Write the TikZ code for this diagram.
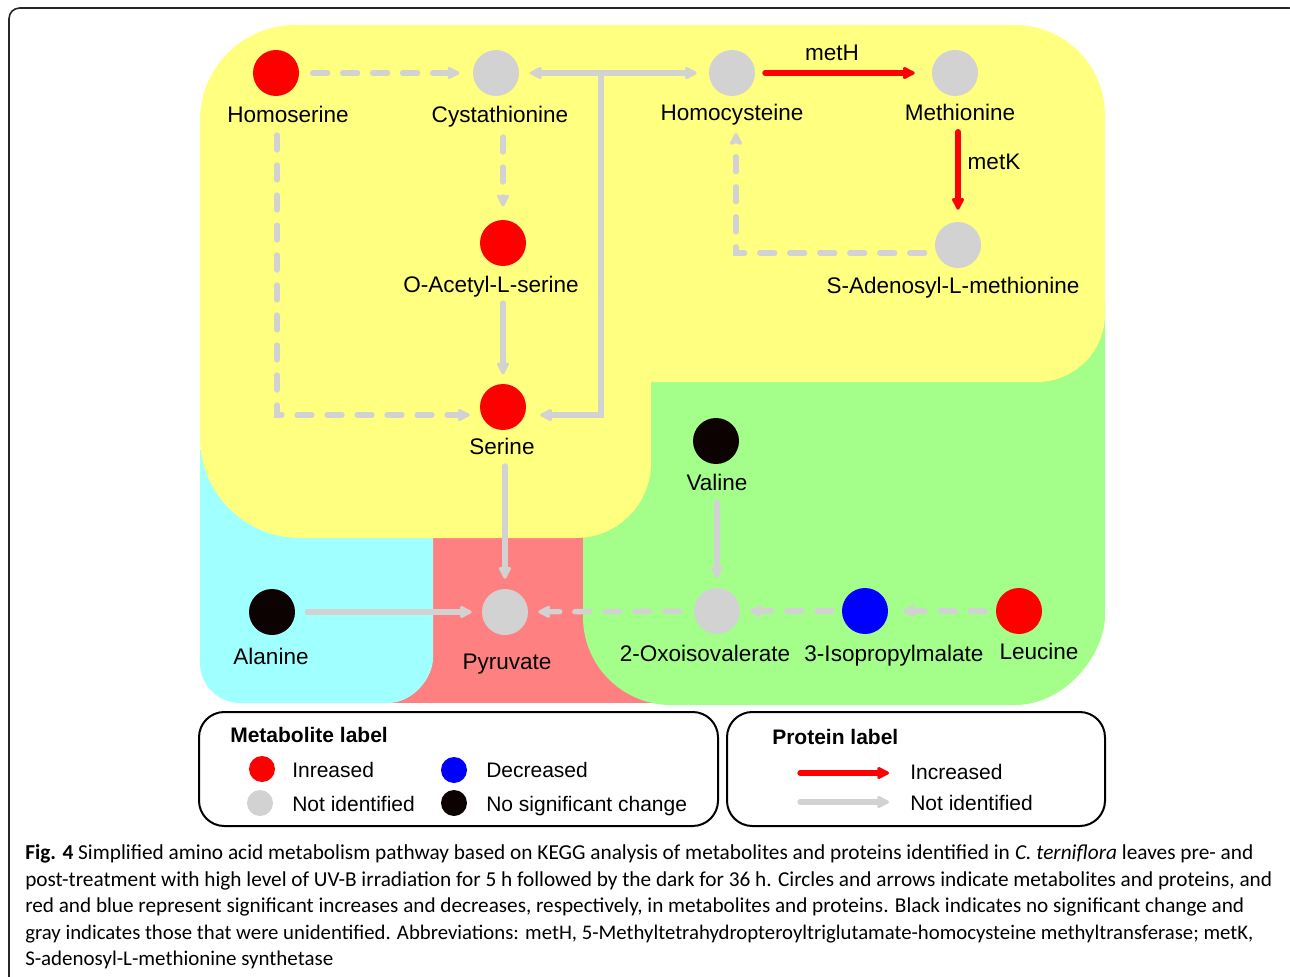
\documentclass[tikz,border=0pt]{standalone}
\usepackage{fontspec}
\setmainfont{Liberation Sans}
\newfontfamily\capfont{Carlito}
\usetikzlibrary{arrows.meta,calc}
\definecolor{cyel}{RGB}{255,255,128}
\definecolor{cgrn}{RGB}{163,255,138}
\definecolor{ccyn}{RGB}{160,255,255}
\definecolor{csal}{RGB}{255,128,128}
\definecolor{cgry}{RGB}{210,210,210}
\definecolor{cred}{RGB}{255,0,0}
\definecolor{cblu}{RGB}{0,0,255}
\definecolor{cblk}{RGB}{12,2,2}
\begin{document}
\begin{tikzpicture}[x=0.75pt,y=-0.75pt,
  >={Stealth[length=11pt,width=11pt,inset=2pt,round]},
  met/.style={circle,minimum size=34.5pt,inner sep=0pt},
  lbl/.style={anchor=base,inner sep=0pt,font=\fontsize{16.9}{20}\selectfont},
  gline/.style={draw=cgry,line width=4pt,line cap=round},
  gdash/.style={gline,dash pattern=on 11.25pt off 11.25pt},
  rline/.style={draw=cred,line width=4.5pt,line cap=round,->},
  legbox/.style={draw=black,line width=1.5pt,rounded corners=19pt},
  lc/.style={circle,minimum size=19.5pt,inner sep=0pt},
  lt/.style={anchor=base west,inner sep=0pt,font=\fontsize{15.75}{18}\selectfont},
  lh/.style={anchor=base west,inner sep=0pt,font=\bfseries\fontsize{15.75}{18}\selectfont},
  captxt/.style={anchor=base west,inner sep=0pt,font=\capfont\fontsize{14.5}{17}\selectfont}]
\useasboundingbox (0,0) rectangle (1290,977);
\clip (0,0) rectangle (1290,977);
\fill[white] (0,0) rectangle (1290,977);
\draw[line width=1.2pt,rounded corners=8pt,draw=black!85] (9,8) rectangle (1300,1010);
% regions
\fill[csal] (380,500) rectangle (700,703);
\fill[ccyn] (200,450) -- (200,663) .. controls (200,685) and (218,703) .. (240,703)
  -- (388,703) .. controls (412.8,703) and (433,678.2) .. (433,658) -- (433,450) -- cycle;
\fill[cgrn] (583,300) -- (583,617) .. controls (583,665.6) and (622.4,705) .. (671,705)
  -- (1015,705) .. controls (1064.7,705) and (1105,655.3) .. (1105,615) -- (1105,300) -- cycle;
\fill[cyel] (295,25) -- (1015,25) .. controls (1064.7,25) and (1105,65.3) .. (1105,115)
  -- (1105,314) .. controls (1105,351.5) and (1074.5,382) .. (1037,382)
  -- (651,382) -- (651,463) .. controls (651,504.4) and (617.4,538) .. (576,538)
  -- (300,538) .. controls (244.8,538) and (200,493.2) .. (200,438)
  -- (200,120) .. controls (200,67.6) and (242.6,25) .. (295,25) -- cycle;
% metabolites
\node[met,fill=cred] (hs) at (276,73) {};
\node[lbl] (hsl) at (288,123) {Homoserine};
\node[met,fill=cgry] (cy) at (496,73) {};
\node[lbl] (cyl) at (500,123) {Cystathionine};
\node[met,fill=cgry] (hc) at (732,73) {};
\node[lbl] (hcl) at (732,121) {Homocysteine};
\node[met,fill=cgry] (me) at (955,73) {};
\node[lbl] (mel) at (960,121) {Methionine};
\node[met,fill=cred] (oa) at (503,243) {};
\node[lbl] (oal) at (491,292) {O-Acetyl-L-serine};
\node[met,fill=cgry] (sam) at (958,245) {};
\node[lbl] (saml) at (953,294) {S-Adenosyl-L-methionine};
\node[met,fill=cred] (se) at (503,407) {};
\node[lbl] (sel) at (502,454) {Serine};
\node[met,fill=cblk] (va) at (716,441) {};
\node[lbl] (val) at (717,490) {Valine};
\node[met,fill=cgry] (pv) at (505,612) {};
\node[lbl] (pvl) at (507,669) {Pyruvate};
\node[met,fill=cblk] (al) at (272,612) {};
\node[lbl] (all) at (271,664) {Alanine};
\node[met,fill=cgry] (ox) at (717,611) {};
\node[lbl] (oxl) at (705,661) {2-Oxoisovalerate};
\node[met,fill=cblu] (ip) at (865,611) {};
\node[lbl] (ipl) at (894,661) {3-Isopropylmalate};
\node[met,fill=cred] (le) at (1019,611) {};
\node[lbl] (lel) at (1039,659) {Leucine};
\node[lbl] (mh) at (832,61) {metH};
\node[lbl] (mk) at (994,170) {metK};
% connectors
\coordinate (j1) at (601,73);
\draw[gdash,->,shorten <=10pt,shorten >=10pt] (hs) -- (cy);
\draw[gline,<->,shorten <=8pt,shorten >=9pt] (cy) -- (hc);
\draw[gline,->,shorten >=10.5pt] (j1) |- ($(se.east)+(0,8)$);
\draw[gdash,->,shorten >=10pt] ($(oa |- cyl.base)+(0,14)$) -- (oa);
\draw[gline,->,shorten >=7pt] ($(se |- oal.base)+(0,11)$) -- (se);
\draw[gdash,->,shorten >=7.5pt] ($(hs |- hsl.base)+(1,12)$) |- ($(se.west)+(0,8)$);
\draw[gline,->,shorten >=7.5pt] ($(pv |- sel.base)+(0,12)$) -- (pv);
\draw[gline,->,shorten <=9pt,shorten >=7.5pt] (al) -- (pv);
\draw[gdash,->,shorten <=10.5pt,shorten >=7.5pt] (ox) -- (pv);
\draw[gline,->,shorten >=7pt] ($(ox |- val.base)+(0,12)$) -- (ox);
\draw[gdash,->,shorten <=7.5pt,shorten >=7pt] (ip) -- (ox);
\draw[gdash,->,shorten <=8pt,shorten >=11pt] (le) -- (ip);
\draw[rline,shorten <=7.5pt,shorten >=12.75pt] (hc) -- (me);
\draw[rline,shorten >=9pt] ($(sam |- mel.base)+(0,11)$) -- (sam);
\draw[gdash,->] ($(sam.west)+(-10,8)$) -| ($(hc |- hcl.base)+(4,12)$);
% legend
\draw[legbox] (199,712) rectangle (718,826);
\draw[legbox] (727,712) rectangle (1105,826);
\node[lh] (mlh) at (230,742) {Metabolite label};
\node[lh] (plh) at (772,744) {Protein label};
\node[lc,fill=cred] (k1) at (262,769) {};
\node[lt] (k1t) at (292,777) {Inreased};
\node[lc,fill=cblu] (k2) at (454,770) {};
\node[lt] (k2t) at (486,777) {Decreased};
\node[lc,fill=cgry] (k3) at (260,803) {};
\node[lt] (k3t) at (292,811) {Not identified};
\node[lc,fill=cblk] (k4) at (454,803) {};
\node[lt] (k4t) at (486,811) {No significant change};
\coordinate (p1s) at (800,773);
\coordinate (p1e) at (889,773);
\coordinate (p2s) at (800,802);
\coordinate (p2e) at (889,802);
\draw[rline,line width=4pt] (p1s) -- (p1e);
\draw[gline,->] (p2s) -- (p2e);
\node[lt] (p1t) at (910,779) {Increased};
\node[lt] (p2t) at (910,810) {Not identified};
% caption
\node[captxt] (c1) at (25,859) {\resizebox{921pt}{!}{\textbf{Fig. 4} Simplified amino acid metabolism pathway based on KEGG analysis of metabolites and proteins identified in \textit{C. terniflora} leaves pre- and}};
\node[captxt] (c2) at (25,886) {\resizebox{935.25pt}{!}{post-treatment with high level of UV-B irradiation for 5 h followed by the dark for 36 h. Circles and arrows indicate metabolites and proteins, and}};
\node[captxt] (c3) at (25,912) {\resizebox{914.25pt}{!}{red and blue represent significant increases and decreases, respectively, in metabolites and proteins. Black indicates no significant change and}};
\node[captxt] (c4) at (25,939) {\resizebox{921pt}{!}{gray indicates those that were unidentified. Abbreviations: metH, 5-Methyltetrahydropteroyltriglutamate-homocysteine methyltransferase; metK,}};
\node[captxt] (c5) at (25,965) {\resizebox{231pt}{!}{S-adenosyl-L-methionine synthetase}};
\end{tikzpicture}
\end{document}
